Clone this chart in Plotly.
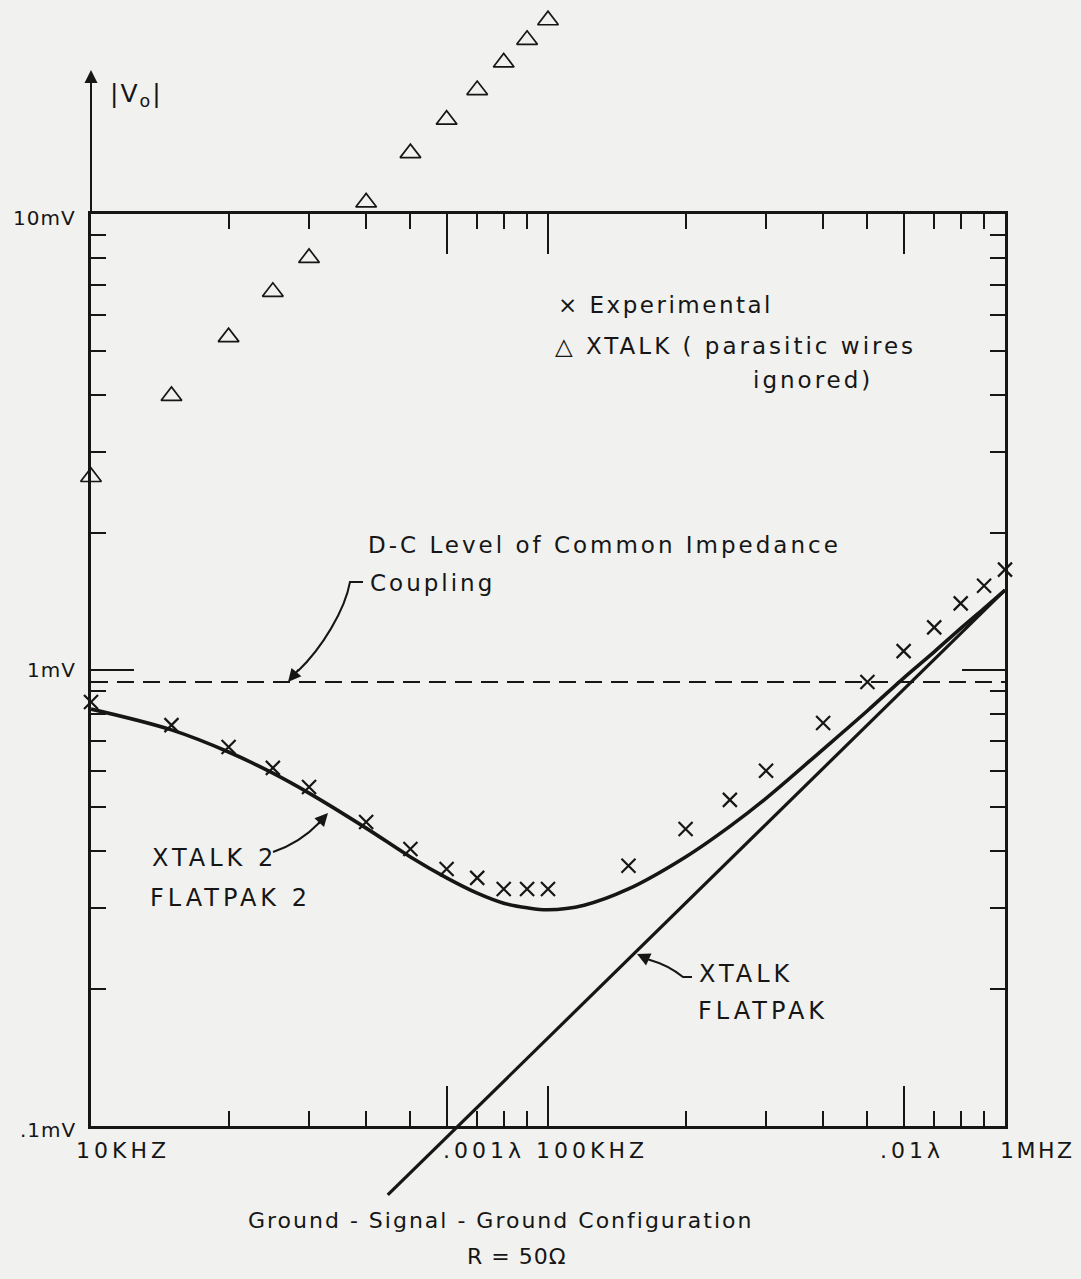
import plotly.graph_objects as go

W, H = 1081, 1279

# ---------------- data (frequency in kHz, |Vo| in mV) ----------------
freq_exp_khz = [10, 15, 20, 25, 30, 40, 50, 60, 70, 80, 90, 100,
                150, 200, 250, 300, 400, 500, 600, 700, 800, 900, 1000]
vo_exp_mv = [0.851, 0.757, 0.678, 0.610, 0.554, 0.464, 0.405, 0.366, 0.350, 0.331, 0.331, 0.331,
             0.372, 0.448, 0.519, 0.601, 0.765, 0.941, 1.10, 1.24, 1.40, 1.53, 1.66]

freq_xtalk_khz = [10, 15, 20, 25, 30, 40, 50, 60, 70, 80, 90, 100]
vo_xtalk_mv = [2.65, 3.99, 5.37, 6.75, 8.01, 10.6, 13.6, 16.1, 18.7, 21.5, 24.1, 26.6]

freq_xtalk2_khz = [10, 15, 20, 25, 30, 40, 50, 60, 70, 80, 90, 100, 120, 150,
                   200, 250, 300, 400, 500, 600, 700, 800, 900, 1000]
vo_xtalk2_mv = [0.821, 0.739, 0.661, 0.594, 0.537, 0.450, 0.389, 0.350, 0.324, 0.308, 0.301, 0.298,
                0.305, 0.331, 0.389, 0.454, 0.523, 0.670, 0.814, 0.960, 1.096, 1.234, 1.365, 1.497]

freq_flatpak_khz = [44.6, 1000]
vo_flatpak_mv = [0.0706, 1.497]

dc_level_mv = 0.941

x_major_khz = [10, 60, 100, 600, 1000]
x_minor_khz = [20, 30, 40, 50, 70, 80, 90, 200, 300, 400, 500, 700, 800, 900]
y_major_mv = [0.1, 1, 10]
y_minor_mv = [0.2, 0.3, 0.4, 0.5, 0.6, 0.7, 0.8, 0.9, 2, 3, 4, 5, 6, 7, 8, 9]

x_tick_labels = ["10KHZ", ".001λ", "100KHZ", ".01λ", "1MHZ"]
y_tick_labels = [".1mV", "1mV", "10mV"]

# ---------------- layout geometry (pixels) ----------------
LEFT, RIGHT, TOP, BOTTOM = 91, 1005, 214, 1126
EXT_BOTTOM = 1215
DEC_Y = (BOTTOM - TOP) / 2.0


def px(x):
    return x / W


def py(y):
    return 1 - y / H


INK = "#161616"
BG = "#f1f1ef"
FONT = "DejaVu Sans"

fig = go.Figure()

# dashed D-C level
fig.add_trace(go.Scatter(x=[freq_exp_khz[0], freq_exp_khz[-1]], y=[dc_level_mv, dc_level_mv],
                         mode="lines", line=dict(color=INK, width=2, dash="17px,9px"),
                         hoverinfo="skip", showlegend=False))

# XTALK2 / FLATPAK2 curve
fig.add_trace(go.Scatter(x=freq_xtalk2_khz, y=vo_xtalk2_mv, mode="lines",
                         line=dict(color=INK, width=3.6, shape="spline", smoothing=1.0),
                         showlegend=False))

# XTALK FLATPAK straight line (extends below the frame) on an extended twin axis
fig.add_trace(go.Scatter(x=freq_flatpak_khz, y=vo_flatpak_mv, mode="lines",
                         line=dict(color=INK, width=3.2), xaxis="x2", yaxis="y2",
                         showlegend=False))

# Experimental
fig.add_trace(go.Scatter(x=freq_exp_khz, y=vo_exp_mv, mode="markers",
                         marker=dict(symbol="x-thin", size=14, line=dict(color=INK, width=2.2)),
                         cliponaxis=False, showlegend=False))

# XTALK (parasitic wires ignored) -- rises above the frame, so drawn on the extended twin axis
fig.add_trace(go.Scatter(x=freq_xtalk_khz, y=vo_xtalk_mv, mode="markers",
                         marker=dict(symbol="triangle-up-open", size=18, color=INK,
                                     line=dict(color=INK, width=1.7)),
                         xaxis="x2", yaxis="y2", cliponaxis=False, showlegend=False))

axis_common = dict(type="log", showgrid=False, zeroline=False, showline=True,
                   linecolor=INK, linewidth=2.5, mirror="ticks", ticks="inside",
                   tickcolor=INK, tickwidth=2, showticklabels=False)

y_lo_ext = 1 - (EXT_BOTTOM - TOP) / DEC_Y
y_hi_ext = 1 + TOP / DEC_Y

fig.update_layout(
    width=W, height=H, margin=dict(l=0, r=0, t=0, b=0),
    paper_bgcolor=BG, plot_bgcolor="rgba(0,0,0,0)",
    font=dict(family=FONT, color=INK, size=22),
    xaxis=dict(**axis_common, range=[1, 3], domain=[px(LEFT), px(RIGHT)], anchor="y",
               tickvals=x_major_khz, ticklen=40,
               minor=dict(tickvals=x_minor_khz, ticks="inside", ticklen=15,
                          tickwidth=2, tickcolor=INK, showgrid=False)),
    yaxis=dict(**axis_common, range=[-1, 1], domain=[py(BOTTOM), py(TOP)], anchor="x",
               tickvals=y_major_mv, ticklen=43,
               minor=dict(tickvals=y_minor_mv, ticks="inside", ticklen=15,
                          tickwidth=2, tickcolor=INK, showgrid=False)),
    xaxis2=dict(type="log", range=[1, 3], domain=[px(LEFT), px(RIGHT)], anchor="y2",
                visible=False),
    yaxis2=dict(type="log", range=[y_lo_ext, y_hi_ext], domain=[py(EXT_BOTTOM), 1],
                anchor="x2", visible=False),
    showlegend=False,
)

ann = []


def text(t, x, y, size=23, xanchor="left", ls=3):
    if ls:
        t = f'<span style="letter-spacing:{ls}px">{t}</span>'
    ann.append(dict(text=t, x=px(x), y=py(y), xref="paper", yref="paper",
                    xanchor=xanchor, yanchor="middle", showarrow=False,
                    font=dict(family=FONT, size=size, color=INK)))


# y tick labels
text(y_tick_labels[2], 78, 218, 20, "right", 1)
text(y_tick_labels[1], 78, 670, 20, "right", 1)
text(y_tick_labels[0], 78, 1130, 20, "right", 1)
# x tick labels
text(x_tick_labels[0], 74, 1150, 22, ls=4)
text(x_tick_labels[1], 441, 1150, 22, ls=4)
text(x_tick_labels[2], 534, 1150, 22, ls=4)
text(x_tick_labels[3], 878, 1150, 22, ls=4)
text(x_tick_labels[4], 998, 1150, 22, ls=2.5)

# axis title with arrow
text("|V<sub>o</sub>|", 136, 95, 25, "center", 2)
ann.append(dict(text="", x=px(LEFT), y=py(70), xref="paper", yref="paper",
                ax=0, ay=TOP - 70, axref="pixel", ayref="pixel", showarrow=True,
                arrowhead=2, arrowsize=1.3, arrowwidth=2, arrowcolor=INK))

# legend-like text
text("× Experimental", 556, 305, 23, ls=2.5)
text("△ XTALK ( parasitic wires", 553, 346, 23, ls=3)
text("ignored)", 751, 380, 23, ls=3)

# D-C level note
text("D-C Level of Common Impedance", 366, 545, 23, ls=3)
text("Coupling", 368, 583, 23, ls=3)

# curve labels
text("XTALK 2", 150, 858, 24, ls=4)
text("FLATPAK 2", 148, 898, 24, ls=4)
text("XTALK", 697, 974, 24, ls=4)
text("FLATPAK", 696, 1011, 24, ls=4)

# bottom caption
text("Ground - Signal - Ground Configuration", 500, 1220, 22, "center", 2)
text("R = 50Ω", 517, 1256, 22, "center", 1)


def arrow_head(tip, tail):
    ann.append(dict(text="", x=px(tip[0]), y=py(tip[1]), xref="paper", yref="paper",
                    ax=tail[0] - tip[0], ay=tail[1] - tip[1], axref="pixel", ayref="pixel",
                    showarrow=True, arrowhead=2, arrowsize=1.3, arrowwidth=2,
                    arrowcolor=INK, standoff=0))


arrow_head((288, 682), (300, 668))
arrow_head((328, 813), (317, 825))
arrow_head((637, 954), (652, 961))

fig.update_layout(annotations=ann)

shapes = []


def curve(cmds):
    s = ""
    for c in cmds:
        op, pts = c[0], c[1:]
        s += op + " " + " ".join(f"{px(a):.5f},{py(b):.5f}" for a, b in pts) + " "
    shapes.append(dict(type="path", path=s.strip(), xref="paper", yref="paper",
                       line=dict(color=INK, width=2)))


curve([("M", (363, 582)), ("L", (350, 582)), ("C", (345, 610), (322, 648), (298, 671))])
curve([("M", (273, 852)), ("Q", (300, 843), (320, 822))])
curve([("M", (692, 977)), ("L", (683, 977)), ("Q", (668, 965), (650, 960))])

fig.update_layout(shapes=shapes)

fig.write_html("out.html", config={"displayModeBar": False},
               post_script="document.body.style.margin='0';document.body.style.overflow='hidden';")
